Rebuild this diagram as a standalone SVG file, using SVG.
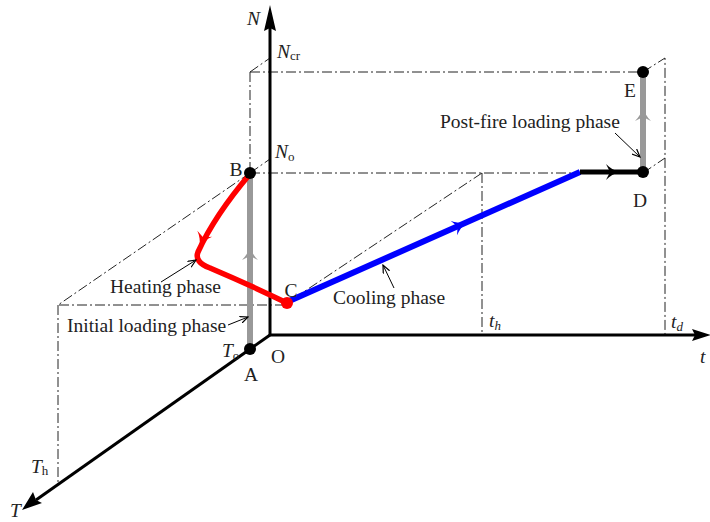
<svg xmlns="http://www.w3.org/2000/svg" width="710" height="522" viewBox="0 0 710 522">
<style>
  .txt { font-family: "Liberation Serif", "Times New Roman", serif; font-size: 19.5px; fill: #222; }
  .it { font-style: italic; }
  .sub { font-size: 13px; }
  .dd { fill: none; stroke: #222; stroke-width: 1; stroke-dasharray: 10 3 2 3; }
  .axis { fill: none; stroke: #000; stroke-width: 3; }
  .call { fill: none; stroke: #000; stroke-width: 1; marker-end: url(#callhead); }
</style>
<defs>
  <path id="ah" d="M 4,0 C -2,-1.5 -6,-4 -10,-8 L -6,0 L -10,8 C -6,4 -2,1.5 4,0 Z"/>
  <marker id="callhead" viewBox="-8 -4 9 8" refX="0" refY="0" markerWidth="9" markerHeight="8" markerUnits="userSpaceOnUse" orient="auto">
    <path d="M -8,-3.5 L 0,0 L -8,3.5" fill="none" stroke="#000" stroke-width="1.2"/>
  </marker>
</defs>
<rect width="710" height="522" fill="#fff"/>

<!-- dash-dot construction lines -->
<g id="guides">
  <path class="dd" d="M250,72 L643,72"/>
  <path class="dd" d="M250,72 L270,58"/>
  <path class="dd" d="M250,72 L250,173"/>
  <path class="dd" d="M250,173 L643,173"/>
  <path class="dd" d="M250,173 L270,159"/>
  <path class="dd" d="M643,72 L665,58 L665,335"/>
  <path class="dd" d="M643,173 L665,158"/>
  <path class="dd" d="M482,173 L482,335"/>
  <path class="dd" d="M482,173 L290,301"/>
  <path class="dd" d="M250,173 L58,305 L285,305"/>
  <path class="dd" d="M58,305 L58,483"/>
</g>

<!-- axes -->
<g id="axes">
  <path class="axis" d="M270,28 L270,335 L695,335"/>
  <path class="axis" d="M270,335 L36,500"/>
  <path d="M270,5 L276,31 L270,28 L264,31 Z" fill="#000"/>
  <path d="M711,335 L692,341 L695,335 L692,329 Z" fill="#000"/>
  <path d="M22,510 L33,492 L36,500 L42,503 Z" fill="#000"/>
  <text class="txt it" x="247" y="25">N</text>
  <text class="txt" x="277" y="58"><tspan class="it">N</tspan><tspan class="sub" dy="2">cr</tspan></text>
  <text class="txt" x="275" y="158"><tspan class="it">N</tspan><tspan class="sub" dy="3">o</tspan></text>
  <text class="txt it" x="700" y="363">t</text>
  <text class="txt it" x="489" y="327">t<tspan class="sub" dy="3">h</tspan></text>
  <text class="txt it" x="671" y="328">t<tspan class="sub" dy="3">d</tspan></text>
  <text class="txt" x="222" y="357"><tspan class="it">T</tspan><tspan class="sub" dy="3">o</tspan></text>
  <text class="txt" x="31" y="473"><tspan class="it">T</tspan><tspan class="sub" dy="2">h</tspan></text>
  <text class="txt it" x="10" y="517">T</text>
</g>

<!-- connectors -->
<g id="connectors">
  <path d="M250,349 L250,173" fill="none" stroke="#999" stroke-width="6"/>
  <use href="#ah" fill="#999" transform="translate(250,250) rotate(-90)"/>
  <path d="M643,172 L643,72" fill="none" stroke="#999" stroke-width="6"/>
  <use href="#ah" fill="#999" transform="translate(643,111) rotate(-90)"/>
  <path d="M250,174 Q215,215 198,252 Q194,262 210,268 Q250,285 287,303" fill="none" stroke="#f00" stroke-width="5.5" stroke-linejoin="round"/>
  <use href="#ah" fill="#f00" transform="translate(201,243) rotate(112)"/>
  <path d="M287,302 L580,172" fill="none" stroke="#00f" stroke-width="6"/>
  <use href="#ah" fill="#00f" transform="translate(463,224) rotate(-23.9)"/>
  <path d="M580,172 L643,172" fill="none" stroke="#000" stroke-width="5"/>
  <use href="#ah" fill="#000" transform="translate(616,172)"/>
</g>

<!-- nodes -->
<g id="node-A">
  <circle cx="250" cy="349" r="6" fill="#000"/>
  <text class="txt" x="251" y="381" text-anchor="middle">A</text>
</g>
<g id="node-O">
  <text class="txt" x="278" y="363" text-anchor="middle">O</text>
</g>
<g id="node-B">
  <circle cx="250" cy="173" r="6" fill="#000"/>
  <text class="txt" x="236" y="176" text-anchor="middle">B</text>
</g>
<g id="node-C">
  <circle cx="287" cy="303" r="6" fill="#f00"/>
  <text class="txt" x="291" y="297" text-anchor="middle">C</text>
</g>
<g id="node-D">
  <circle cx="643" cy="172" r="6" fill="#000"/>
  <text class="txt" x="640" y="207" text-anchor="middle">D</text>
</g>
<g id="node-E">
  <circle cx="643" cy="72" r="6" fill="#000"/>
  <text class="txt" x="630" y="97" text-anchor="middle">E</text>
</g>

<!-- phase labels -->
<g id="labels">
  <text class="txt" x="110" y="293">Heating phase</text>
  <path class="call" d="M161,282 L196,260"/>
  <text class="txt" x="67" y="332">Initial loading phase</text>
  <path class="call" d="M228,325 L248,317"/>
  <text class="txt" x="333" y="304">Cooling phase</text>
  <path class="call" d="M394,288 L383,265"/>
  <text class="txt" x="440" y="128">Post-fire loading phase</text>
  <path class="call" d="M615,133 L640,157"/>
</g>
</svg>
